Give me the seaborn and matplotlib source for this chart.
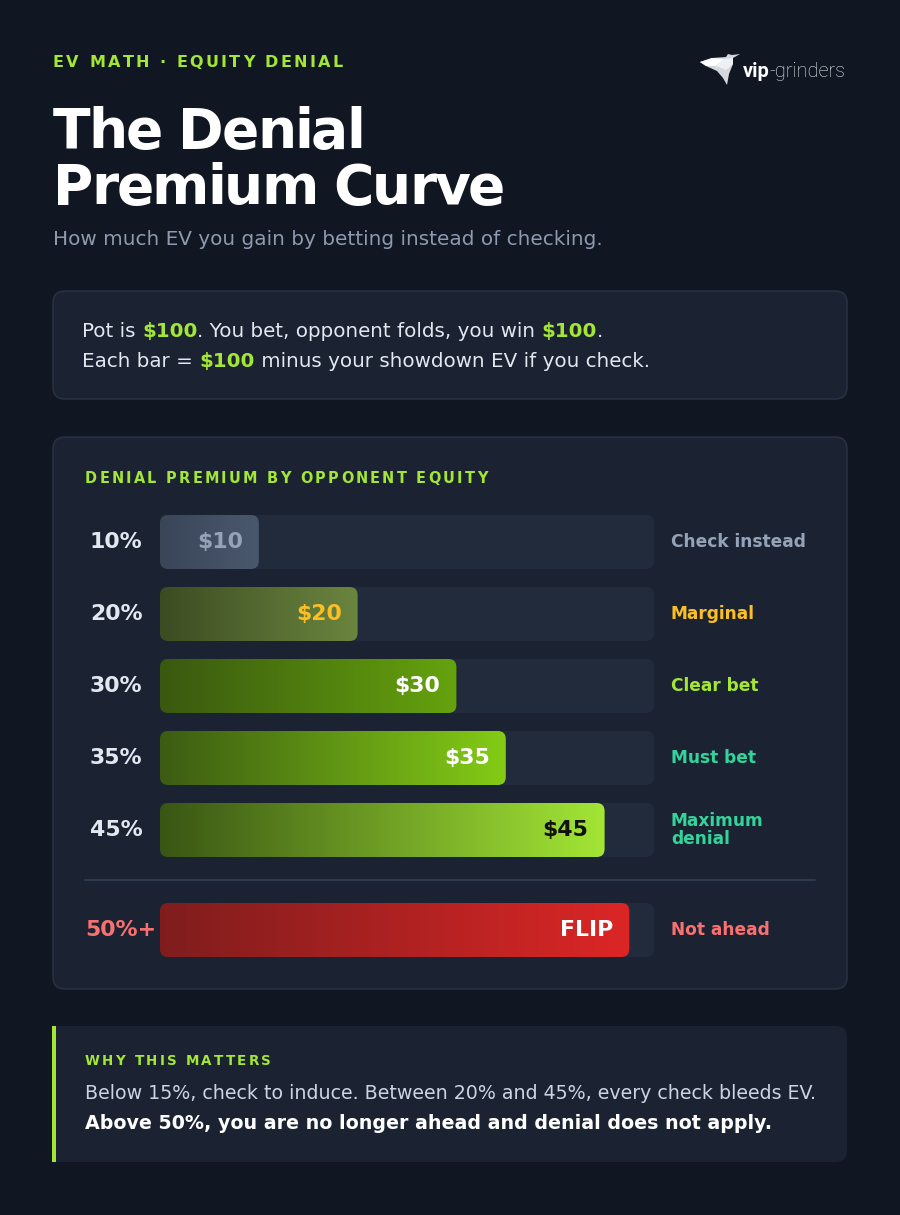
import numpy as np
import pandas as pd
import matplotlib
matplotlib.use("Agg")
import matplotlib.pyplot as plt
import matplotlib.transforms as mtransforms
import seaborn as sns
from matplotlib.patches import FancyBboxPatch, Polygon, Rectangle
from matplotlib.colors import LinearSegmentedColormap
from matplotlib.font_manager import FontProperties

# ---------------- data ----------------
equity_labels = ["10%", "20%", "30%", "35%", "45%"]
premium = [10, 20, 30, 35, 45]
value_labels = ["$10", "$20", "$30", "$35", "$45"]
verdicts = ["Check instead", "Marginal", "Clear bet", "Must bet", "Maximum\ndenial"]

flip_labels = ["50%+"]
flip_values = [47.5]
flip_texts = ["FLIP"]
flip_verdicts = ["Not ahead"]

SCALE_MAX = 50

# ---------------- style ----------------
BG = "#111722"
PANEL = "#1b2333"
PANEL_EDGE = "#2a3446"
TRACK = "#222b3c"
GREEN = "#a3e635"
TXT = "#e2e8f0"
MUTED = "#94a3b8"

bar_grads = [("#3a4558", "#4a586e"),
             ("#3c4c22", "#6b853f"),
             ("#3a5810", "#65a30d"),
             ("#3c5c12", "#84cc16"),
             ("#3a5614", "#a3e635")]
value_colors = ["#94a3b8", "#fbbf24", "#ffffff", "#ffffff", "#111111"]
verdict_colors = ["#94a3b8", "#fbbf24", "#a3e635", "#34d399", "#34d399"]
flip_grads = [("#7f1d1d", "#dc2626")]
flip_value_colors = ["#ffffff"]
flip_verdict_colors = ["#f87171"]
flip_label_colors = ["#f87171"]

sns.set_theme(style="dark")
plt.rcParams["font.family"] = ["DejaVu Sans"]

W, H = 900, 1215
fig = plt.figure(figsize=(W / 100, H / 100), dpi=100, facecolor=BG)
bg = fig.add_axes([0, 0, 1, 1])
bg.set_xlim(0, W)
bg.set_ylim(H, 0)
bg.axis("off")

renderer = fig.canvas.get_renderer()
PT = 0.72  # points per pixel at 100 dpi


def text_w(s, size_px, weight="normal", family="DejaVu Sans"):
    fp = FontProperties(family=family, size=size_px * PT, weight=weight)
    w1, _, _ = renderer.get_text_width_height_descent("|" + s + "|", fp, ismath=False)
    w0, _, _ = renderer.get_text_width_height_descent("||", fp, ismath=False)
    return w1 - w0


def rich(x, y, pieces, size_px, family="DejaVu Sans"):
    for s, color, weight in pieces:
        bg.text(x, y, s, color=color, fontsize=size_px * PT, fontweight=weight,
                family=family, ha="left", va="baseline", parse_math=False)
        x += text_w(s, size_px, weight, family)


def spaced(x, y, s, size_px, color, spacing, weight="bold"):
    for ch in s:
        bg.text(x, y, ch, color=color, fontsize=size_px * PT, fontweight=weight,
                ha="left", va="baseline", parse_math=False)
        x += text_w(ch, size_px, weight) + spacing


def rbox(x, y, w, h, r, fc, ec="none", lw=0, z=0):
    p = FancyBboxPatch((x, y), w, h, boxstyle=f"round,pad=0,rounding_size={r}",
                       fc=fc, ec=ec, lw=lw, zorder=z)
    bg.add_patch(p)
    return p


# ---------------- header ----------------
spaced(53, 67, "EV MATH · EQUITY DENIAL", 16, GREEN, 2.4)
spaced(53, 148, "The Denial", 55, "#ffffff", -2.0)
spaced(53, 204, "Premium Curve", 55, "#ffffff", -2.0)
bg.text(53, 245, "How much EV you gain by betting instead of checking.", color="#8d9ab0",
        fontsize=20 * PT, ha="left", va="baseline")

# logo
bird = [
    ([(700, 62), (712, 58), (726, 57), (728, 54), (732, 55), (740, 54), (733, 58),
      (733, 64), (729, 74), (727, 85), (723, 78), (717, 71), (706, 66)], "#d4d7dd"),
    ([(700, 62), (712, 58), (724, 59), (716, 66), (706, 66)], "#ffffff"),
    ([(724, 59), (733, 58), (733, 64), (726, 70), (716, 66)], "#eef0f3"),
]
for pts, c in bird:
    bg.add_patch(Polygon(pts, closed=True, fc=c, ec="none", zorder=3))
rich(743, 77, [("vip", "#ffffff", "bold"), ("-grinders", "#e5e7eb", "light")], 20, family="Roboto")

# ---------------- info box ----------------
rbox(53, 291, 794, 108, 12, PANEL, PANEL_EDGE, 1)
rich(82, 337, [("Pot is ", TXT, "normal"), ("$100", GREEN, "bold"),
               (". You bet, opponent folds, you win ", TXT, "normal"),
               ("$100", GREEN, "bold"), (".", TXT, "normal")], 19.9)
rich(82, 367, [("Each bar = ", TXT, "normal"), ("$100", GREEN, "bold"),
               (" minus your showdown EV if you check.", TXT, "normal")], 19.9)

# ---------------- chart panel ----------------
rbox(53, 437, 794, 552, 12, PANEL, PANEL_EDGE, 1)
spaced(85, 483, "DENIAL PREMIUM BY OPPONENT EQUITY", 14.5, GREEN, 2.25)
bg.plot([85, 815], [880, 880], color="#334155", lw=1.2, zorder=2)


def px_rect(left, top, right, bottom):
    return [left / W, 1 - bottom / H, (right - left) / W, (bottom - top) / H]


def draw_rows(rect, cats, vals, vtexts, grads, vcolors, verds, verd_colors, lab_colors, lab_x):
    ax = fig.add_axes(px_rect(*rect))
    df = pd.DataFrame({"equity": cats, "premium": vals})
    sns.barplot(data=df, x="premium", y="equity", orient="h", ax=ax, width=0.75,
                color="#65a30d", errorbar=None)
    ax.set_xlim(0, SCALE_MAX)
    xlim, ylim = ax.get_xlim(), ax.get_ylim()
    ax.axis("off")
    xpx = ax.bbox.width / (xlim[1] - xlim[0])
    ypx = ax.bbox.height / abs(ylim[1] - ylim[0])
    r = 8
    asp = xpx / ypx
    tr = mtransforms.blended_transform_factory(bg.transData, ax.transData)
    for i, p in enumerate(list(ax.patches)):
        x, y, w, h = p.get_x(), p.get_y(), p.get_width(), p.get_height()
        p.set_visible(False)
        ax.add_patch(FancyBboxPatch((0, y), SCALE_MAX, h,
                                    boxstyle=f"round,pad=0,rounding_size={r / xpx}",
                                    mutation_aspect=asp, fc=TRACK, ec="none", zorder=1))
        clip = FancyBboxPatch((x, y), w, h, boxstyle=f"round,pad=0,rounding_size={r / xpx}",
                              mutation_aspect=asp, fc="none", ec="none", zorder=2)
        ax.add_patch(clip)
        cmap = LinearSegmentedColormap.from_list(f"g{i}", list(grads[i]))
        im = ax.imshow(np.linspace(0, 1, 256).reshape(1, -1), cmap=cmap,
                       extent=(x, x + w, y + h, y), aspect="auto", zorder=2,
                       interpolation="bilinear")
        im.set_clip_path(clip)
        yc = y + h / 2
        ax.text(x + w - 16 / xpx, yc, vtexts[i], ha="right", va="center", color=vcolors[i],
                fontsize=22 * PT, fontweight="bold", zorder=3, parse_math=False)
        bg.text(lab_x[i], yc, cats[i], transform=tr, ha="left", va="center",
                color=lab_colors[i], fontsize=22 * PT, fontweight="bold", parse_math=False)
        bg.text(671, yc, verds[i], transform=tr, ha="left", va="center",
                color=verd_colors[i], fontsize=17 * PT, fontweight="bold",
                linespacing=1.05, parse_math=False)
    ax.set_xlim(xlim)
    ax.set_ylim(ylim)
    return ax


draw_rows((160, 506, 654, 866), equity_labels, premium, value_labels, bar_grads,
          value_colors, verdicts, verdict_colors, [TXT] * 5, [90] * 5)
draw_rows((160, 894, 654, 966), flip_labels, flip_values, flip_texts, flip_grads,
          flip_value_colors, flip_verdicts, flip_verdict_colors, flip_label_colors, [85])

# ---------------- bottom note ----------------
rbox(53, 1026, 794, 136, 12, PANEL)
bg.add_patch(Rectangle((53, 1026), 20, 136, fc=PANEL, ec="none", zorder=0.5))
bg.add_patch(Rectangle((52, 1026), 4, 136, fc=GREEN, ec="none", zorder=1))
spaced(85, 1065, "WHY THIS MATTERS", 13.5, GREEN, 2.2)
bg.text(85, 1099, "Below 15%, check to induce. Between 20% and 45%, every check bleeds EV.",
        color="#cbd5e1", fontsize=19 * PT, ha="left", va="baseline")
bg.text(85, 1129, "Above 50%, you are no longer ahead and denial does not apply.",
        color="#ffffff", fontsize=19 * PT, fontweight="bold", ha="left", va="baseline")

fig.savefig("out.png", dpi=100, facecolor=BG)
